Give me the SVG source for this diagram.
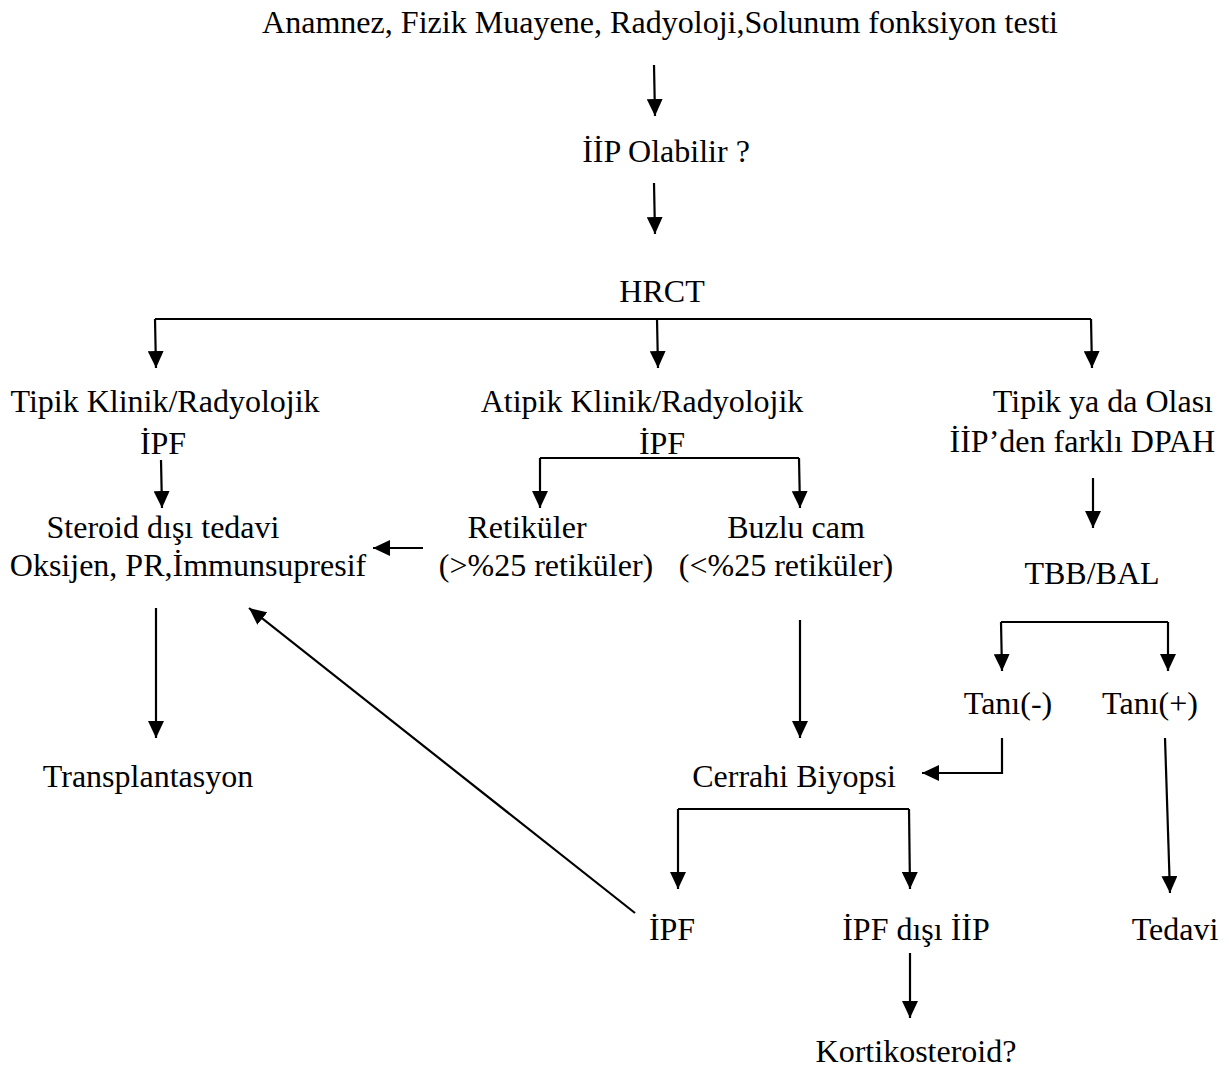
<svg xmlns="http://www.w3.org/2000/svg" width="1229" height="1072" viewBox="0 0 1229 1072">
<style>
text{font-family:"Liberation Serif","Times New Roman",serif;font-size:32px;fill:#000;text-anchor:middle}
.c{fill:none;stroke:#000;stroke-width:2.2}
.a{marker-end:url(#ah)}
</style>
<defs>
<marker id="ah" markerUnits="userSpaceOnUse" markerWidth="18" markerHeight="16" refX="17" refY="8" orient="auto">
<path d="M0,0 L17,8 L0,16 z" fill="#000"/>
</marker>
</defs>
<rect width="1229" height="1072" fill="#fff"/>
<g id="n-start"><text x="660" y="33" font-size="35" textLength="796" lengthAdjust="spacingAndGlyphs">Anamnez, Fizik Muayene, Radyoloji,Solunum fonksiyon testi</text></g>
<g id="n-iip"><text x="666" y="162">İİP Olabilir ?</text></g>
<g id="n-hrct"><text x="662" y="302">HRCT</text></g>
<g id="n-tipik"><text x="165" y="412">Tipik Klinik/Radyolojik</text><text x="163" y="454">İPF</text></g>
<g id="n-atipik"><text x="642" y="412">Atipik Klinik/Radyolojik</text><text x="662" y="454">İPF</text></g>
<g id="n-olasi"><text x="1213" y="412" style="text-anchor:end">Tipik ya da Olası</text><text x="1215" y="452" style="text-anchor:end">İİP’den farklı DPAH</text></g>
<g id="n-steroid"><text x="163" y="538">Steroid dışı tedavi</text><text x="188" y="576">Oksijen, PR,İmmunsupresif</text></g>
<g id="n-retikuler"><text x="527" y="538">Retiküler</text><text x="546" y="576">(&gt;%25 retiküler)</text></g>
<g id="n-buzlu"><text x="796" y="538">Buzlu cam</text><text x="786" y="576">(&lt;%25 retiküler)</text></g>
<g id="n-tbb"><text x="1092" y="584">TBB/BAL</text></g>
<g id="n-tanineg"><text x="1008" y="714">Tanı(-)</text></g>
<g id="n-tanipos"><text x="1150" y="714">Tanı(+)</text></g>
<g id="n-transplant"><text x="148" y="787">Transplantasyon</text></g>
<g id="n-cerrahi"><text x="794" y="787">Cerrahi Biyopsi</text></g>
<g id="n-ipf"><text x="672" y="940">İPF</text></g>
<g id="n-ipfdisi"><text x="916" y="940">İPF dışı İİP</text></g>
<g id="n-tedavi"><text x="1175" y="940">Tedavi</text></g>
<g id="n-kortiko"><text x="916" y="1062">Kortikosteroid?</text></g>
<g id="connectors">
<line class="c a" x1="654" y1="65" x2="655" y2="116"/>
<line class="c a" x1="654" y1="183" x2="655" y2="234"/>
<polyline class="c" points="155,319 1091,319"/>
<line class="c a" x1="155" y1="319" x2="156" y2="368"/>
<line class="c a" x1="657" y1="319" x2="658" y2="368"/>
<line class="c a" x1="1091" y1="319" x2="1092" y2="368"/>
<line class="c a" x1="161" y1="460" x2="162" y2="508"/>
<polyline class="c" points="540,458 799,458"/>
<line class="c a" x1="540" y1="458" x2="540" y2="508"/>
<line class="c a" x1="799" y1="458" x2="800" y2="508"/>
<line class="c a" x1="423" y1="548" x2="373" y2="548"/>
<line class="c a" x1="1093" y1="478" x2="1093" y2="528"/>
<polyline class="c" points="1001,622 1168,622"/>
<line class="c a" x1="1001" y1="622" x2="1002" y2="671"/>
<line class="c a" x1="1168" y1="622" x2="1168" y2="671"/>
<polyline class="c a" points="1002,738 1002,773 922,773"/>
<line class="c a" x1="1165" y1="738" x2="1170" y2="893"/>
<line class="c a" x1="156" y1="608" x2="156" y2="738"/>
<line class="c a" x1="800" y1="620" x2="800" y2="738"/>
<polyline class="c" points="678,809 909,809"/>
<line class="c a" x1="678" y1="809" x2="678" y2="889"/>
<line class="c a" x1="909" y1="809" x2="910" y2="889"/>
<line class="c a" x1="910" y1="953" x2="910" y2="1018"/>
<line class="c a" x1="635" y1="913" x2="249" y2="608"/>
</g>
</svg>
